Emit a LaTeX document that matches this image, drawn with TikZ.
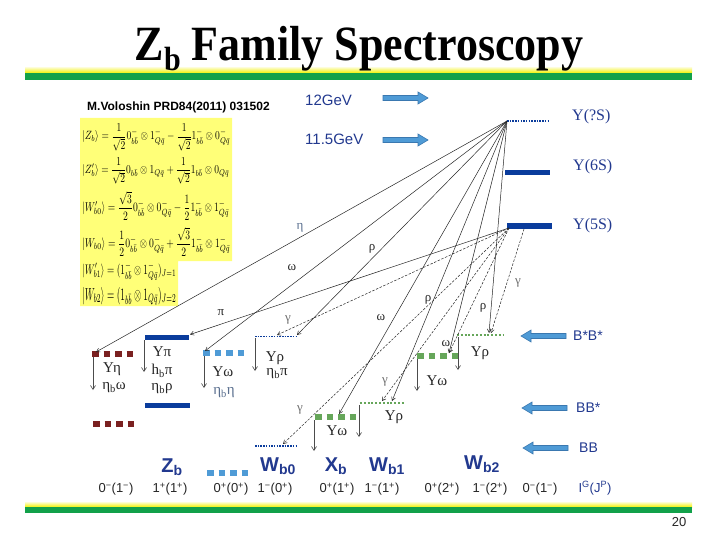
\documentclass[tikz,border=0pt]{standalone}
\usepackage{fontspec}
\setmainfont{Liberation Sans}
\newfontfamily\seriff{Liberation Serif}
\usepackage{graphicx}
\usetikzlibrary{arrows.meta}
\definecolor{dblue}{HTML}{0A3C9C}
\definecolor{tblue}{HTML}{22398F}
\definecolor{lblue}{HTML}{4F9BD6}
\definecolor{lbedge}{HTML}{3A78B0}
\definecolor{dred}{HTML}{7A2020}
\definecolor{lgreen}{HTML}{66A65A}
\definecolor{bargreen}{HTML}{12A14A}
\definecolor{baryellow}{HTML}{F2F200}
\definecolor{eqyellow}{HTML}{FFFF78}
\definecolor{graylab}{HTML}{707070}
\definecolor{etalab}{HTML}{5A6F8F}
\tikzset{
 conn/.style={draw=black!85, line width=0.5pt, -{Straight Barb[length=3.5pt,width=4pt]}},
 dconn/.style={conn, dash pattern=on 2.5pt off 1.5pt},
 downarr/.style={draw=black!70, line width=0.6pt, -{Straight Barb[length=4pt,width=5pt]}},
 sqlev/.style={line width=6pt, dash pattern=on 6.5pt off 5pt},
 dotlev/.style={line width=1.3pt, dash pattern=on 1.5pt off 1.2pt},
 lab/.style={font=\seriff\fontsize{15}{15}\selectfont, inner sep=0, text=black!85},
 llab/.style={font=\seriff\fontsize{13}{13}\selectfont, inner sep=0, text=black!85},
 qn/.style={font=\fontsize{13}{13}\selectfont, inner sep=0, text=black!85},
 bigl/.style={font=\bfseries\fontsize{20}{20}\selectfont, text=tblue, inner sep=0},
 ylab/.style={font=\seriff\fontsize{16}{16}\selectfont, text=tblue, inner sep=0, anchor=west},
 glab/.style={font=\fontsize{14}{14}\selectfont, text=tblue, inner sep=0, anchor=west},
 barrow/.style={fill=lblue, draw=lbedge, line width=0.6pt},
 eqn/.style={inner sep=0, anchor=west},
 rarr/.pic={\path[barrow] (0,-2.5) -- (35,-2.5) -- (35,-6) -- (45,0) -- (35,6) -- (35,2.5) -- (0,2.5) -- cycle;},
}
\begin{document}
\begin{tikzpicture}[x=1pt,y=-1pt]
\useasboundingbox (0,0) rectangle (720,540);
\fill[white] (0,0) rectangle (720,540);
% bars
\shade[top color=white, bottom color=baryellow] (25,66) rectangle (692,73);
\fill[bargreen] (25,73) rectangle (692,80);
\shade[top color=white, bottom color=baryellow] (25,501) rectangle (692,507);
\fill[bargreen] (25,507) rectangle (692,513);
% title
\node (title) at (359,49) {\scalebox{1}[1.12]{\seriff\bfseries\fontsize{44}{44}\selectfont Z\raisebox{-0.2em}{\fontsize{30}{30}\selectfont b} Family Spectroscopy}};
\node[qn] (pg) at (679,522) {20};
% reference and equations
\node[inner sep=0, anchor=west, font=\bfseries\fontsize{12}{12}\selectfont] (ref) at (87,107) {M.Voloshin PRD84(2011) 031502};
\fill[eqyellow] (80,118) -- (232,118) -- (232,261) -- (178,261) -- (178,306) -- (80,306) -- cycle;
\node[eqn] (e1) at (82,137.5) {\resizebox*{148pt}{27pt}{$\displaystyle |Z_b\rangle=\frac{1}{\sqrt2}0^-_{b\bar b}\otimes1^-_{Q\bar q}-\frac{1}{\sqrt2}1^-_{b\bar b}\otimes0^-_{Q\bar q}$}};
\node[eqn] (e2) at (82,171) {\resizebox*{147pt}{27pt}{$\displaystyle |Z'_b\rangle=\frac{1}{\sqrt2}0_{b\bar b}\otimes1_{Q\bar q}+\frac{1}{\sqrt2}1_{b\bar b}\otimes0_{Q\bar q}$}};
\node[eqn] (e3) at (82,206) {\resizebox*{147pt}{29pt}{$\displaystyle |W'_{b0}\rangle=\frac{\sqrt3}{2}0^-_{b\bar b}\otimes0^-_{Q\bar q}-\frac{1}{2}1^-_{b\bar b}\otimes1^-_{Q\bar q}$}};
\node[eqn] (e4) at (82,242) {\resizebox*{148pt}{29pt}{$\displaystyle |W_{b0}\rangle=\frac{1}{2}0^-_{b\bar b}\otimes0^-_{Q\bar q}+\frac{\sqrt3}{2}1^-_{b\bar b}\otimes1^-_{Q\bar q}$}};
\node[eqn] (e5) at (82,271) {\resizebox*{94pt}{18pt}{$\displaystyle |W'_{b1}\rangle=(1^-_{b\bar b}\otimes1^-_{Q\bar q})_{J=1}$}};
\node[eqn] (e6) at (82,296) {\resizebox*{94pt}{18pt}{$\displaystyle |W_{b2}\rangle=(1_{b\bar b}\otimes1_{Q\bar q})_{J=2}$}};
% energy arrows
\node[glab, font=\fontsize{15}{15}\selectfont] (g12) at (305,100) {12GeV};
\node[glab, font=\fontsize{15}{15}\selectfont] (g115) at (305,139) {11.5GeV};
\pic (a12) at (383,98) {rarr};
\pic (a115) at (383,140) {rarr};
\pic[xscale=-1] (abb1) at (566,336) {rarr};
\pic[xscale=-1] (abb2) at (567,408) {rarr};
\pic[xscale=-1] (abb3) at (568,448) {rarr};
\node[glab] (lbb1) at (573,336) {B*B*};
\node[glab] (lbb2) at (576,408) {BB*};
\node[glab] (lbb3) at (579,448) {BB};
% upsilon levels
\draw[dblue, dotlev] (507,121) -- (550,121);
\draw[dblue, line width=5pt] (505,172.5) -- (550,172.5);
\draw[dblue, line width=6pt] (507,226) -- (552,226);
\node[ylab] (y7) at (572,117) {Υ(?S)};
\node[ylab] (y6) at (573,167) {Υ(6S)};
\node[ylab] (y5) at (573,226) {Υ(5S)};
\coordinate (src) at (507,121);
\coordinate (u5) at (509,228);
\coordinate (u5b) at (524,229);
% lower levels
\draw[dred, sqlev] (92,354) -- (133,354);
\draw[dred, sqlev] (93,424) -- (134,424);
\draw[dblue, line width=5pt] (145,337) -- (189,337);
\draw[dblue, line width=5pt] (145,405) -- (190,405);
\draw[lblue, sqlev] (203,353) -- (244,353);
\draw[dblue, dotlev] (255,336.5) -- (298,336.5);
\draw[dblue, dotlev] (255,446) -- (298,446);
\draw[lgreen, sqlev] (315,417) -- (356,417);
\draw[lgreen, line width=2pt, dash pattern=on 2pt off 1.8pt] (360,403) -- (404,403);
\draw[lgreen, sqlev] (417,356) -- (458,356);
\draw[lgreen, line width=2pt, dash pattern=on 2pt off 1.8pt] (457,335) -- (503,335);
\draw[lblue, sqlev] (207,473) -- (248,473);
% end points
\coordinate (tEta) at (96,352);
\coordinate (tOmA) at (205,351);
\coordinate (tPi) at (190,334.5);
\coordinate (tGa1) at (277,335);
\coordinate (tRho1) at (297,335);
\coordinate (tOmB) at (339,414);
\coordinate (tGa2) at (283,444);
\coordinate (tGa3) at (382,401);
\coordinate (tRho2) at (392,401);
\coordinate (tOmC) at (449,353);
\coordinate (tRho3) at (489,333);
\coordinate (tGa4) at (491,333);
% connectors
\draw[conn] (src) -- (tEta);
\draw[conn] (src) -- (tOmA);
\draw[conn] (src) -- (tRho1);
\draw[conn] (src) -- (tOmB);
\draw[conn] (src) -- (tRho2);
\draw[conn] (src) -- (tOmC);
\draw[conn] (src) -- (tRho3);
\draw[conn] (u5) -- (tPi);
\draw[dconn] (u5) -- (tGa1);
\draw[dconn] (u5) -- (tGa2);
\draw[dconn] (u5) -- (tGa3);
\draw[dconn] (u5) -- (tOmC);
\draw[dconn] (u5b) -- (tGa4);
% connector labels
\node[llab, text=etalab] (leta) at (300,228) {η};
\node[llab] (lom1) at (292,268) {ω};
\node[llab] (lrho1) at (372,249) {ρ};
\node[llab] (lpi) at (221,313) {π};
\node[llab, text=graylab] (lga1) at (288,320) {γ};
\node[llab] (lrho2) at (428,300) {ρ};
\node[llab] (lom2) at (381,318) {ω};
\node[llab] (lom3) at (446,344) {ω};
\node[llab] (lrho3) at (483,308) {ρ};
\node[llab, text=graylab] (lga4) at (518,283) {γ};
\node[llab, text=graylab] (lga2) at (300,410) {γ};
\node[llab, text=graylab] (lga3) at (385,382) {γ};
% down arrows
\coordinate (d1a) at (93,357); \coordinate (d1b) at (93,390);
\coordinate (d2a) at (144,340); \coordinate (d2b) at (144,372);
\coordinate (d3a) at (204,356); \coordinate (d3b) at (204,388);
\coordinate (d4a) at (255,338); \coordinate (d4b) at (255,371);
\coordinate (d5a) at (314,420); \coordinate (d5b) at (314,451);
\coordinate (d6a) at (359,405); \coordinate (d6b) at (359,437);
\coordinate (d7a) at (417,359); \coordinate (d7b) at (417,391);
\coordinate (d8a) at (458,337); \coordinate (d8b) at (458,370);
\foreach \i in {1,...,8} {\draw[downarr] (d\i a) -- (d\i b);}
% level labels
\node[lab] (n1) at (112,369) {Υη};
\node[lab] (n2) at (114,388) {η\textsubscript{b}ω};
\node[lab] (n3) at (162,352) {Υπ};
\node[lab] (n4) at (162,371) {h\textsubscript{b}π};
\node[lab] (n5) at (162,389) {η\textsubscript{b}ρ};
\node[lab] (n6) at (223,372) {Υω};
\node[lab, text=etalab] (n7) at (224,393) {η\textsubscript{b}η};
\node[lab] (n8) at (275,358) {Υρ};
\node[lab] (n9) at (277,374) {η\textsubscript{b}π};
\node[lab] (n10) at (337,431) {Υω};
\node[lab] (n11) at (394,417) {Υρ};
\node[lab] (n12) at (437,381) {Υω};
\node[lab] (n13) at (480,353) {Υρ};
% family names
\node[bigl] (zb) at (172,467) {Z\textsubscript{b}};
\node[bigl] (wb0) at (278,466) {W\textsubscript{b0}};
\node[bigl] (xb) at (336,466) {X\textsubscript{b}};
\node[bigl] (wb1) at (387,466) {W\textsubscript{b1}};
\node[bigl] (wb2) at (482,464) {W\textsubscript{b2}};
% quantum numbers
\node[qn] (q1) at (116,489) {0\textsuperscript{−}(1\textsuperscript{−})};
\node[qn] (q2) at (170,489) {1\textsuperscript{+}(1\textsuperscript{+})};
\node[qn] (q3) at (231,489) {0\textsuperscript{+}(0\textsuperscript{+})};
\node[qn] (q4) at (275,489) {1\textsuperscript{−}(0\textsuperscript{+})};
\node[qn] (q5) at (337,489) {0\textsuperscript{+}(1\textsuperscript{+})};
\node[qn] (q6) at (382,489) {1\textsuperscript{−}(1\textsuperscript{+})};
\node[qn] (q7) at (442,489) {0\textsuperscript{+}(2\textsuperscript{+})};
\node[qn] (q8) at (490,489) {1\textsuperscript{−}(2\textsuperscript{+})};
\node[qn] (q9) at (540,489) {0\textsuperscript{−}(1\textsuperscript{−})};
\node[qn, text=tblue] (q10) at (595,488) {I\textsuperscript{G}(J\textsuperscript{P})};
\end{tikzpicture}
\end{document}
